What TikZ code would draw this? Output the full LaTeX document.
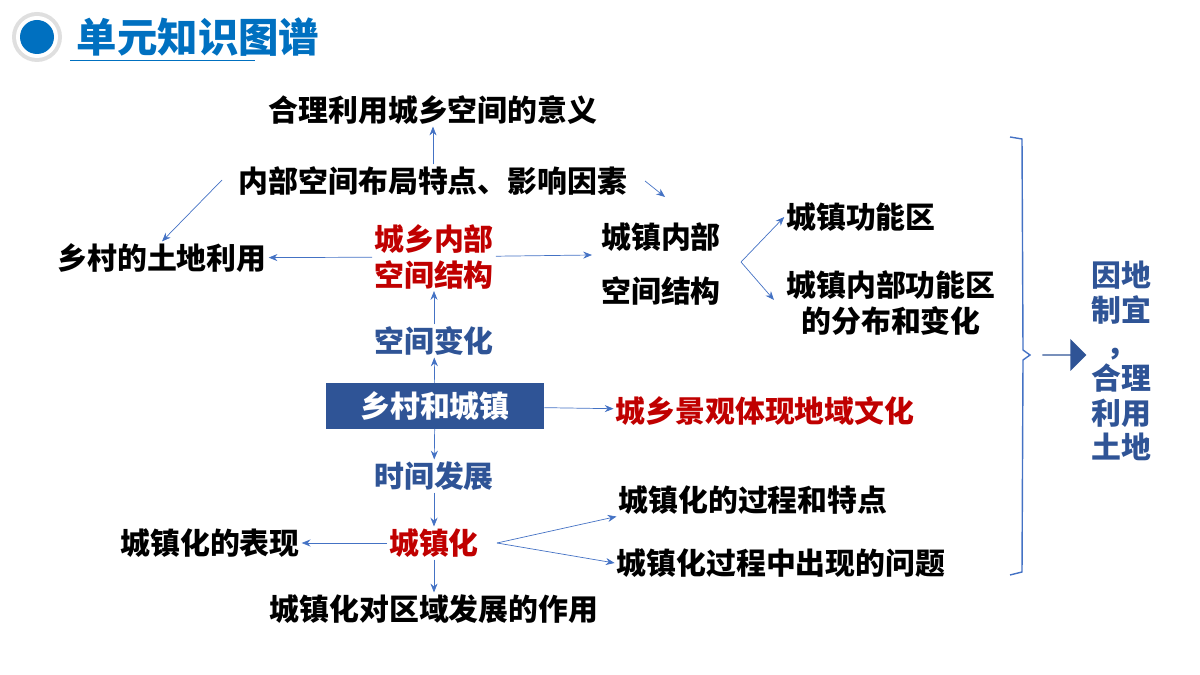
\documentclass[tikz,border=0pt]{standalone}
\usepackage{fontspec}
\setmainfont{Noto Sans CJK SC}
\usetikzlibrary{arrows.meta, positioning, shapes.arrows}
\definecolor{titleblue}{RGB}{0,112,192}
\definecolor{linkblue}{RGB}{68,114,196}
\definecolor{darkblue}{RGB}{47,84,150}
\definecolor{keyred}{RGB}{192,0,0}

\begin{document}
\begin{tikzpicture}[x=0.02cm, y=-0.02cm,
	every node/.style={font=\fontsize{17}{20}\selectfont\bfseries, inner sep=1pt, align=center},
	keyword/.style={text=keyred},
	stage/.style={text=darkblue},
	arrow/.style={-{Stealth[length=5pt,width=4pt]}, linkblue, thin}
	]
	\useasboundingbox (0,0) rectangle (1200,675);
	
	% Title
	\fill[gray!25] (37,37) circle (25);
	\fill[white] (37,37) circle (21);
	\fill[titleblue] (37,37) circle (17);
	\node (title) [text=titleblue, font=\fontsize{23}{26}\selectfont\bfseries] at (198,37) {单元知识图谱};
	\draw[titleblue, thin] (70,60) -- (255,60);
	
	% Nodes
	\node (meaning) at (433,110) {合理利用城乡空间的意义};
	\node (factors) at (433,181) {内部空间布局特点、影响因素};
	\node (rural) at (162,258) {乡村的土地利用};
	\node (inner) [keyword] at (434,257) {城乡内部\\空间结构};
	\node (town) at (661,237) {城镇内部};
	\node (townb) at (661,291) {空间结构};
	\node (zone) at (861,217) {城镇功能区};
	\node (zonechange) at (891,303) {城镇内部功能区\\的分布和变化};
	\node (space) [stage] at (434,341) {空间变化};
	\node (main) [fill=darkblue, text=white, minimum width=218*0.02cm, minimum height=45*0.02cm] at (435,406) {乡村和城镇};
	\node (culture) [keyword] at (765,411) {城乡景观体现地域文化};
	\node (time) [stage] at (434,476) {时间发展};
	\node (urban) [keyword] at (434,543) {城镇化};
	\node (show) at (210,543) {城镇化的表现};
	\node (process) at (753,500) {城镇化的过程和特点};
	\node (problem) at (781,563) {城镇化过程中出现的问题};
	\node (effect) at (434,609) {城镇化对区域发展的作用};
	\node (result) [text=darkblue, font=\fontsize{17}{19.5}\selectfont\bfseries] at (1121,361) {因地\\制宜\\，\\合理\\利用\\土地};
	\coordinate (fork) at (741,262);
	\coordinate (split) at (497,543);
	\coordinate (townin) at (592,255);
	
	% Arrows
	\draw[arrow] (factors) -- (meaning);
	\draw[arrow] (222,180) -- (rural.north);
	\draw[arrow] (645,181) -- (665,197);
	\draw[arrow] (inner) -- (rural);
	\draw[arrow] (inner) -- (townin);
	\draw[arrow] (space) -- (inner);
	\draw[arrow] (main) -- (space);
	\draw[arrow] (main) -- (time);
	\draw[arrow] (main) -- (culture);
	\draw[arrow] (time) -- (urban);
	\draw[arrow] (urban) -- (show);
	\draw[arrow] (urban) -- (effect);
	\draw[arrow] (split) -- (process.south west);
	\draw[arrow] (split) -- (problem.west);
	\draw[arrow] (fork) -- (zone.west);
	\draw[arrow] (fork) -- (774,300);
	
	% Bracket
	\draw[linkblue, thick] (1010,137) -- (1022,139) -- (1023,350) -- (1030,355) -- (1023,360) -- (1022,572) -- (1010,575);
	\node (bigarrow) [single arrow, fill=darkblue, minimum height=44*0.02cm, minimum width=32*0.02cm, single arrow head extend=0.15cm, inner sep=0pt] at (1064,355) {};
	
\end{tikzpicture}
\end{document}
